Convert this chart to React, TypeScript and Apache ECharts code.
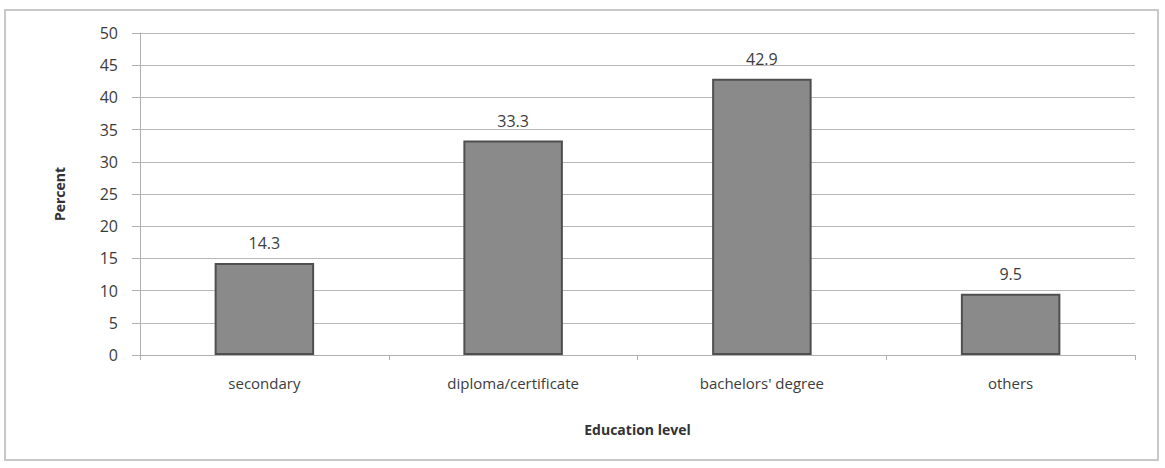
import React, { useEffect, useRef } from "react";
import * as echarts from "echarts";

const categories = ["secondary", "diploma/certificate", "bachelors' degree", "others"];
const percentValues = [14.3, 33.3, 42.9, 9.5];
const yTicks = { min: 0, max: 50, interval: 5 };

export default function App() {
  const ref = useRef<HTMLDivElement>(null);
  useEffect(() => {
    if (!ref.current) return;
    const chart = echarts.init(ref.current, null, { renderer: "svg" });
    const font = "'Open Sans', 'DejaVu Sans', sans-serif";
    chart.setOption({
      animation: false,
      backgroundColor: "#ffffff",
      graphic: [
        {
          type: "rect",
          shape: { x: 5, y: 10, width: 1153, height: 450 },
          style: { fill: "none", stroke: "#c8c8c8", lineWidth: 2 },
          silent: true,
        },
      ],
      grid: { left: 140, right: 30, top: 33, bottom: 113 },
      xAxis: {
        type: "category",
        data: categories,
        name: "Education level",
        nameLocation: "middle",
        nameGap: 67,
        nameTextStyle: { fontFamily: font, fontSize: 14, fontWeight: "bold", color: "#333" },
        axisLine: { show: true, lineStyle: { color: "#b0b0b0", width: 1 } },
        axisTick: { show: true, length: 5, lineStyle: { color: "#b0b0b0" } },
        axisLabel: { fontFamily: font, fontSize: 15, color: "#3c3c3c", margin: 20 },
      },
      yAxis: {
        type: "value",
        min: yTicks.min,
        max: yTicks.max,
        interval: yTicks.interval,
        name: "Percent",
        nameLocation: "middle",
        nameGap: 74,
        nameRotate: 90,
        nameTextStyle: { fontFamily: font, fontSize: 14, fontWeight: "bold", color: "#333" },
        axisLine: { show: true, lineStyle: { color: "#b0b0b0", width: 1 } },
        axisTick: { show: true, length: 8, lineStyle: { color: "#b0b0b0" } },
        axisLabel: { fontFamily: font, fontSize: 16, color: "#3c3c3c", margin: 22 },
        splitLine: { show: true, lineStyle: { color: "#b8b8b8", width: 1 } },
      },
      series: [
        {
          type: "bar",
          data: percentValues,
          barWidth: "40%",
          itemStyle: {
            color: "#8a8a8a",
            borderColor: "#4f4f4f",
            borderWidth: 2,
          },
          label: {
            show: true,
            position: "top",
            distance: 12,
            fontFamily: font,
            fontSize: 16,
            color: "#3c3c3c",
          },
        },
      ],
    });
    return () => chart.dispose();
  }, []);
  return <div ref={ref} style={{ width: 1165, height: 468, position: "absolute", left: 0, top: 0 }} />;
}
